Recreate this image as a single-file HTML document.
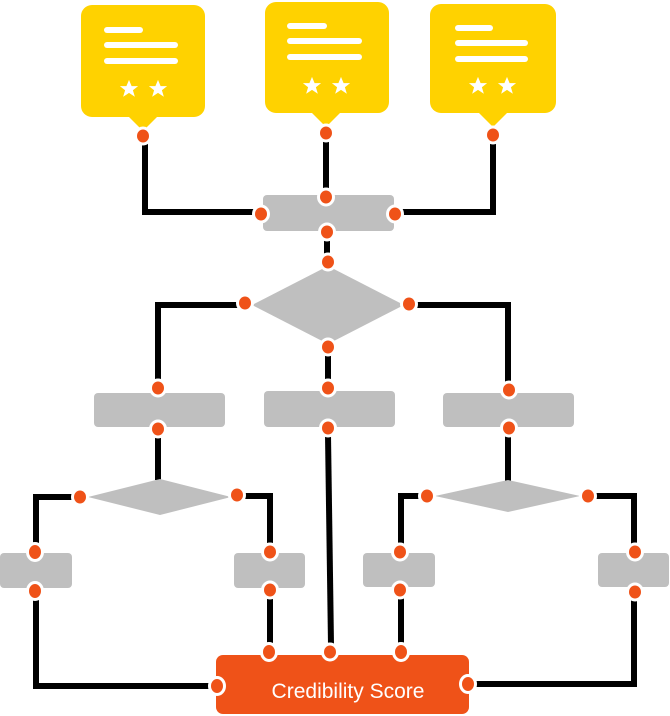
<!DOCTYPE html>
<html><head><meta charset="utf-8"><style>html,body{margin:0;padding:0;background:#fff}svg{display:block}</style></head>
<body>
<svg width="670" height="716" viewBox="0 0 670 716" xmlns="http://www.w3.org/2000/svg">
<defs>
<g id="star"><polygon transform="scale(1.3)" points="0,-7 2,-2.2 7,-2.2 3,1 4.5,6 0,3 -4.5,6 -3,1 -7,-2.2 -2,-2.2" fill="#fff"/></g>
</defs>
<!-- connectors -->
<g stroke="#000" stroke-width="6" fill="none" stroke-linejoin="miter">
<polyline points="145,143 145,212 254,212"/>
<line x1="326" y1="141" x2="326" y2="190"/>
<polyline points="493,142 493,212 402,212"/>
<line x1="327" y1="239" x2="327" y2="256"/>
<polyline points="238,305 158,305 158,382"/>
<polyline points="416,305 508,305 508,383"/>
<line x1="328" y1="354" x2="328" y2="383"/>
<line x1="158" y1="436" x2="158" y2="480"/>
<line x1="508" y1="436" x2="508" y2="481"/>
<polyline points="73,497 36,497 36,545"/>
<polyline points="245,496 270,496 270,545"/>
<polyline points="420,496 401,496 401,545"/>
<polyline points="595,496 634,496 634,545"/>
<polyline points="36,598 36,686 210,686"/>
<line x1="270" y1="598" x2="270" y2="645"/>
<line x1="328" y1="435" x2="331" y2="645"/>
<line x1="401" y1="598" x2="401" y2="645"/>
<polyline points="634,600 634,684 475,684"/>
</g>
<!-- bubbles -->
<g fill="#FFD200">
<rect x="81" y="5" width="124" height="112" rx="11"/><polygon points="128,116 158,116 143,131"/>
<rect x="265" y="2" width="124" height="111" rx="11"/><polygon points="311,112 341,112 326,127"/>
<rect x="430" y="4" width="126" height="109" rx="11"/><polygon points="478,112 508,112 493,127"/>
</g>
<g stroke="#fff" stroke-width="6" stroke-linecap="round">
<line x1="107" y1="30" x2="140" y2="30"/><line x1="107" y1="45" x2="175" y2="45"/><line x1="107" y1="61" x2="175" y2="61"/>
<line x1="290" y1="26" x2="324" y2="26"/><line x1="290" y1="41" x2="359" y2="41"/><line x1="290" y1="57" x2="359" y2="57"/>
<line x1="458" y1="28" x2="490" y2="28"/><line x1="458" y1="43" x2="525" y2="43"/><line x1="458" y1="59" x2="525" y2="59"/>
</g>
<use href="#star" x="129" y="89"/><use href="#star" x="158" y="89"/>
<use href="#star" x="312" y="86"/><use href="#star" x="341" y="86"/>
<use href="#star" x="478" y="86"/><use href="#star" x="507" y="86"/>
<!-- gray shapes -->
<g fill="#BFBFBF">
<rect x="263" y="195" width="131" height="36" rx="4"/>
<polygon points="252,305 328,266 404,305 328,344"/>
<rect x="94" y="393" width="131" height="34" rx="4"/>
<rect x="264" y="391" width="131" height="36" rx="4"/>
<rect x="443" y="393" width="131" height="34" rx="4"/>
<polygon points="88,497 160,479 231,497 160,515"/>
<polygon points="435,496 508,480 580,496 508,512"/>
<rect x="0" y="553" width="72" height="35" rx="4"/>
<rect x="234" y="553" width="71" height="35" rx="4"/>
<rect x="363" y="553" width="72" height="34" rx="4"/>
<rect x="598" y="553" width="71" height="34" rx="4"/>
</g>
<rect x="216" y="655" width="253" height="59" rx="7" fill="#EF5218"/>
<text x="348" y="698" text-anchor="middle" fill="#fff" font-family="'Liberation Sans',sans-serif" font-size="21">Credibility Score</text>
<!-- dots -->
<g fill="#EF5218" stroke="#fff" stroke-width="3">
<ellipse cx="143" cy="136" rx="7.5" ry="8"/>
<ellipse cx="326" cy="133" rx="7.5" ry="8"/>
<ellipse cx="493" cy="135" rx="7.5" ry="8"/>
<ellipse cx="326" cy="197" rx="7.5" ry="8"/>
<ellipse cx="261" cy="214" rx="7.5" ry="8"/>
<ellipse cx="395" cy="214" rx="7.5" ry="8"/>
<ellipse cx="327" cy="232" rx="7.5" ry="8"/>
<ellipse cx="328" cy="262" rx="7.5" ry="8"/>
<ellipse cx="245" cy="303" rx="7.5" ry="8"/>
<ellipse cx="409" cy="304" rx="7.5" ry="8"/>
<ellipse cx="328" cy="347" rx="7.5" ry="8"/>
<ellipse cx="158" cy="388" rx="7.5" ry="8"/>
<ellipse cx="328" cy="388" rx="7.5" ry="8"/>
<ellipse cx="509" cy="390" rx="7.5" ry="8"/>
<ellipse cx="158" cy="429" rx="7.5" ry="8"/>
<ellipse cx="328" cy="428" rx="7.5" ry="8"/>
<ellipse cx="509" cy="428" rx="7.5" ry="8"/>
<ellipse cx="80" cy="497" rx="7.5" ry="8"/>
<ellipse cx="237" cy="495" rx="7.5" ry="8"/>
<ellipse cx="427" cy="496" rx="7.5" ry="8"/>
<ellipse cx="588" cy="496" rx="7.5" ry="8"/>
<ellipse cx="35" cy="552" rx="7.5" ry="8.5"/>
<ellipse cx="270" cy="552" rx="7.5" ry="8"/>
<ellipse cx="400" cy="552" rx="7.5" ry="8"/>
<ellipse cx="635" cy="552" rx="7.5" ry="8"/>
<ellipse cx="35" cy="591" rx="7.5" ry="8.5"/>
<ellipse cx="270" cy="590" rx="7.5" ry="8"/>
<ellipse cx="400" cy="590" rx="7.5" ry="8"/>
<ellipse cx="635" cy="592" rx="7.5" ry="8"/>
<ellipse cx="269" cy="652" rx="7.5" ry="8.5"/>
<ellipse cx="330" cy="652" rx="7.5" ry="8"/>
<ellipse cx="401" cy="652" rx="7.5" ry="8.5"/>
<ellipse cx="217" cy="686" rx="7.5" ry="8.5"/>
<ellipse cx="468" cy="684" rx="7.5" ry="8.5"/>
</g>
</svg>
</body></html>
